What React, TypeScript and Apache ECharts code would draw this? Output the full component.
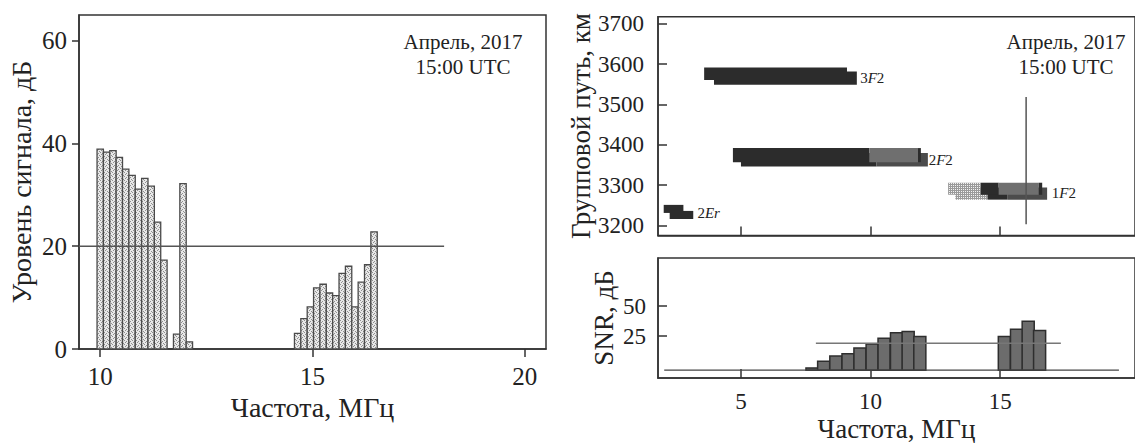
import React, { useEffect, useRef } from "react";
import * as echarts from "echarts";

// ---------- Left chart: signal level ----------
const sigFreqs = [10.0, 10.15, 10.3, 10.45, 10.6, 10.75, 10.9, 11.05, 11.2, 11.35, 11.5, 11.8, 11.95, 12.1,
  14.65, 14.8, 14.95, 15.1, 15.25, 15.4, 15.55, 15.7, 15.85, 16.0, 16.15, 16.3, 16.45];
const sigLevels = [38.9, 38.3, 38.6, 37.3, 35.0, 33.8, 31.1, 33.2, 31.7, 24.7, 17.3, 2.9, 32.2, 1.4,
  3.05, 5.9, 8.2, 11.9, 12.6, 10.9, 10.4, 14.7, 16.1, 8.2, 13.0, 16.4, 22.8];
const sigBarWidth = 0.15;
const sigThreshold = 20;
const sigThresholdFreqs = [9.5, 18.1];
const leftXTicks = [10, 15, 20];
const leftYTicks = [0, 20, 40, 60];

// ---------- Right top: group path traces ----------
// each trace segment: frequency start/end (MHz), group path low/high (km), shade level
const traceF1 = [3.96, 3.58, 5.0, 10.23, 4.69, 9.95, 11.83, 13.27, 12.99, 14.51, 15.29, 14.25, 14.94, 16.49, 2.25, 2.02];
const traceF2 = [9.47, 9.09, 10.23, 12.21, 9.95, 11.83, 11.94, 14.51, 14.25, 15.29, 16.81, 14.94, 16.49, 16.62, 3.16, 2.78];
const traceKmLow = [3549, 3561, 3346, 3346, 3357, 3357, 3357, 3264, 3276, 3264, 3264, 3276, 3276, 3276, 3216, 3231];
const traceKmHigh = [3582, 3592, 3380, 3380, 3392, 3392, 3392, 3294, 3306, 3294, 3294, 3306, 3306, 3306, 3236, 3251];
const traceShade = [0, 0, 0, 1, 0, 2, 0, 3, 3, 0, 1, 0, 2, 0, 0, 0];
const modeNames = ["3F2", "2F2", "1F2", "2Er"];
const modeLabelFreq = [9.6, 12.24, 16.99, 3.32];
const modeLabelKm = [3565, 3363, 3281, 3231];
const markerFreq = 16.0;
const markerKm = [3203, 3519];
const pathYTicks = [3200, 3300, 3400, 3500, 3600, 3700];
const rightXTicks = [5, 10, 15];

// ---------- Right bottom: SNR ----------
const snrFreqs = [7.74, 8.19, 8.66, 9.13, 9.59, 10.06, 10.52, 11.0, 11.45, 11.9, 15.16, 15.63, 16.08, 16.52];
const snrValues = [-1.6, 3.9, 8.3, 10.2, 15.0, 18.3, 23.1, 27.8, 28.8, 24.6, 24.6, 30.7, 37.2, 29.6];
const snrBase = -3.5;
const snrBarWidth = 0.465;
const snrThreshold = 19;
const snrThresholdFreqs = [7.89, 17.34];
const snrBaseFreqs = [2.04, 19.58];
const snrYTicks = [25, 50];

const FONT = '"Liberation Serif", "Times New Roman", serif';
const INK = "#222";
const FRAME = "#333";

function makePattern(kind: "stipple" | "mesh") {
  const c = document.createElement("canvas");
  c.width = 4;
  c.height = 4;
  const g = c.getContext("2d")!;
  if (kind === "stipple") {
    g.fillStyle = "#e8e8e8";
    g.fillRect(0, 0, 4, 4);
    g.fillStyle = "#8f8f8f";
    [[0, 0], [2, 1], [1, 2], [3, 3]].forEach(([x, y]) => g.fillRect(x, y, 1, 1));
  } else {
    g.fillStyle = "#f2f2f2";
    g.fillRect(0, 0, 4, 4);
    g.fillStyle = "#9a9a9a";
    g.fillRect(0, 0, 4, 1);
    g.fillRect(0, 2, 4, 1);
    g.fillRect(0, 0, 1, 4);
    g.fillRect(2, 0, 1, 4);
  }
  return { image: c, repeat: "repeat", imageWidth: 4, imageHeight: 4 } as any;
}

export default function App() {
  const ref = useRef<HTMLDivElement>(null);
  useEffect(() => {
    if (!ref.current) return;
    const chart = echarts.init(ref.current, null, { renderer: "svg" });
    const stipple = makePattern("stipple");
    const mesh = makePattern("mesh");
    const shadeFill = ["#2c2c2c", "#4c4c4c", "#6f6f6f", mesh];

    const plain = (v: number) => String(v);
    const tickLabel = (size: number) => ({ fontFamily: FONT, fontSize: size, color: INK, formatter: plain });
    const nameStyle = (size: number) => ({ fontFamily: FONT, fontSize: size, color: INK });
    const axLine = { show: true, onZero: false, lineStyle: { color: FRAME, width: 1.5 } };

    const option: any = {
      animation: false,
      backgroundColor: "#fff",
      grid: [
        { left: 79, top: 15, width: 467, height: 334, show: true, borderColor: FRAME, borderWidth: 1.5 },
        { left: 658, top: 16.7, width: 484.5, height: 218.8, show: true, borderColor: FRAME, borderWidth: 1.5 },
        { left: 658, top: 258, width: 484.5, height: 127.3, show: true, borderColor: FRAME, borderWidth: 1.5 },
      ],
      xAxis: [
        {
          gridIndex: 0, type: "value", min: 9.5, max: 20.5, splitNumber: 2,
          axisLine: axLine,
          axisTick: { show: true, inside: false, length: 8, customValues: leftXTicks, lineStyle: { color: FRAME, width: 1.5 } },
          axisLabel: { ...tickLabel(25), margin: 15, customValues: leftXTicks },
          splitLine: { show: false },
          name: "Частота, МГц", nameLocation: "middle", nameGap: 35, nameTextStyle: nameStyle(28),
        },
        {
          gridIndex: 1, type: "value", min: 1.8, max: 20.2, splitNumber: 4,
          axisLine: axLine,
          axisTick: { show: true, inside: true, length: 9, customValues: rightXTicks, lineStyle: { color: FRAME, width: 1.5 } },
          axisLabel: { show: false },
          splitLine: { show: false },
        },
        {
          gridIndex: 2, type: "value", min: 1.8, max: 20.2, splitNumber: 4,
          axisLine: axLine,
          axisTick: { show: true, inside: true, length: 9, customValues: rightXTicks, lineStyle: { color: FRAME, width: 1.5 } },
          axisLabel: { ...tickLabel(23), margin: 12, customValues: rightXTicks },
          splitLine: { show: false },
          name: "Частота, МГц", nameLocation: "middle", nameGap: 37, nameTextStyle: nameStyle(27),
        },
      ],
      yAxis: [
        {
          gridIndex: 0, type: "value", min: 0, max: 65, interval: 20,
          axisLine: axLine,
          axisTick: { show: true, inside: false, length: 7, customValues: leftYTicks, lineStyle: { color: FRAME, width: 1.5 } },
          axisLabel: { ...tickLabel(25), margin: 12, customValues: leftYTicks },
          splitLine: { show: false },
          name: "Уровень сигнала, дБ", nameLocation: "middle", nameGap: 44, nameTextStyle: nameStyle(28),
        },
        {
          gridIndex: 1, type: "value", min: 3175, max: 3718,
          axisLine: axLine,
          axisTick: { show: true, inside: true, length: 9, customValues: pathYTicks, lineStyle: { color: FRAME, width: 1.5 } },
          axisLabel: { ...tickLabel(23), margin: 14, customValues: pathYTicks },
          splitLine: { show: false },
          name: "Групповой путь, км", nameLocation: "middle", nameGap: 44, nameTextStyle: nameStyle(27),
        },
        {
          gridIndex: 2, type: "value", min: -10, max: 90,
          axisLine: axLine,
          axisTick: { show: true, inside: true, length: 9, customValues: snrYTicks, lineStyle: { color: FRAME, width: 1.5 } },
          axisLabel: { ...tickLabel(23), margin: 12, customValues: snrYTicks },
          splitLine: { show: false },
          name: "SNR, дБ", nameLocation: "middle", nameGap: 41, nameTextStyle: nameStyle(27),
        },
      ],
      series: [
        {
          type: "custom", xAxisIndex: 0, yAxisIndex: 0,
          data: sigFreqs.map((f, i) => [f, sigLevels[i]]),
          encode: { x: 0, y: 1 },
          renderItem: (_p: any, api: any) => {
            const f = api.value(0), v = api.value(1);
            const a = api.coord([f - sigBarWidth / 2, v]);
            const b = api.coord([f + sigBarWidth / 2, 0]);
            return {
              type: "rect",
              shape: { x: a[0], y: a[1], width: b[0] - a[0], height: b[1] - a[1] },
              style: { fill: stipple, stroke: "#4a4a4a", lineWidth: 1.3 },
            };
          },
        },
        {
          type: "line", xAxisIndex: 0, yAxisIndex: 0, symbol: "none",
          data: sigThresholdFreqs.map((f) => [f, sigThreshold]),
          lineStyle: { color: "#555", width: 1.6 },
        },
        {
          type: "custom", xAxisIndex: 1, yAxisIndex: 1,
          data: traceF1.map((f, i) => [f, traceF2[i], traceKmLow[i], traceKmHigh[i], traceShade[i]]),
          encode: { x: [0, 1], y: [2, 3] },
          renderItem: (_p: any, api: any) => {
            const a = api.coord([api.value(0), api.value(3)]);
            const b = api.coord([api.value(1), api.value(2)]);
            const s = api.value(4);
            return {
              type: "rect",
              shape: { x: a[0], y: a[1], width: b[0] - a[0], height: b[1] - a[1] },
              style: { fill: shadeFill[s], stroke: null },
            };
          },
        },
        {
          type: "custom", xAxisIndex: 1, yAxisIndex: 1,
          data: modeNames.map((n, i) => [modeLabelFreq[i], modeLabelKm[i], i]),
          encode: { x: 0, y: 1 },
          renderItem: (_p: any, api: any) => {
            const p = api.coord([api.value(0), api.value(1)]);
            const name = modeNames[api.value(2)];
            const m = name.match(/^(\d)([A-Za-z]+)(\d?)$/)!;
            const text = "{n|" + m[1] + "}{i|" + m[2] + "}" + (m[3] ? "{n|" + m[3] + "}" : "");
            return {
              type: "text", x: p[0], y: p[1],
              style: {
                text,
                align: "left", verticalAlign: "middle",
                fill: INK,
                rich: {
                  n: { fontFamily: FONT, fontSize: 15, fill: INK },
                  i: { fontFamily: FONT, fontSize: 15, fontStyle: "italic", fill: INK },
                },
              },
            };
          },
        },
        {
          type: "line", xAxisIndex: 1, yAxisIndex: 1, symbol: "none",
          data: markerKm.map((k) => [markerFreq, k]),
          lineStyle: { color: "#555", width: 1.5 },
        },
        {
          type: "custom", xAxisIndex: 2, yAxisIndex: 2,
          data: snrFreqs.map((f, i) => [f, snrValues[i]]),
          encode: { x: 0, y: 1 },
          renderItem: (_p: any, api: any) => {
            const f = api.value(0), v = api.value(1);
            const a = api.coord([f - snrBarWidth / 2, v]);
            const b = api.coord([f + snrBarWidth / 2, snrBase]);
            return {
              type: "rect",
              shape: { x: a[0], y: a[1], width: b[0] - a[0], height: b[1] - a[1] },
              style: { fill: "#6c6c6c", stroke: "#2e2e2e", lineWidth: 1.5 },
            };
          },
        },
        {
          type: "line", xAxisIndex: 2, yAxisIndex: 2, symbol: "none",
          data: snrThresholdFreqs.map((f) => [f, snrThreshold]),
          lineStyle: { color: "#777", width: 1.4 },
        },
        {
          type: "line", xAxisIndex: 2, yAxisIndex: 2, symbol: "none",
          data: snrBaseFreqs.map((f) => [f, snrBase]),
          lineStyle: { color: "#444", width: 1.3 },
        },
      ],
      graphic: [
        { type: "text", x: 463, y: 42, style: { text: "Апрель, 2017", font: '21px "Liberation Serif"', fill: INK, textAlign: "center", textVerticalAlign: "middle", align: "center", verticalAlign: "middle" } },
        { type: "text", x: 463, y: 67, style: { text: "15:00 UTC", font: '21px "Liberation Serif"', fill: INK, textAlign: "center", textVerticalAlign: "middle", align: "center", verticalAlign: "middle" } },
        { type: "text", x: 1066, y: 42, style: { text: "Апрель, 2017", font: '21px "Liberation Serif"', fill: INK, textAlign: "center", textVerticalAlign: "middle", align: "center", verticalAlign: "middle" } },
        { type: "text", x: 1066, y: 67, style: { text: "15:00 UTC", font: '21px "Liberation Serif"', fill: INK, textAlign: "center", textVerticalAlign: "middle", align: "center", verticalAlign: "middle" } },
      ],
    };
    chart.setOption(option);
    return () => chart.dispose();
  }, []);
  return (
    <div
      ref={ref}
      style={{ position: "fixed", left: 0, top: 0, width: 1135, height: 443, background: "#fff" }}
    />
  );
}
